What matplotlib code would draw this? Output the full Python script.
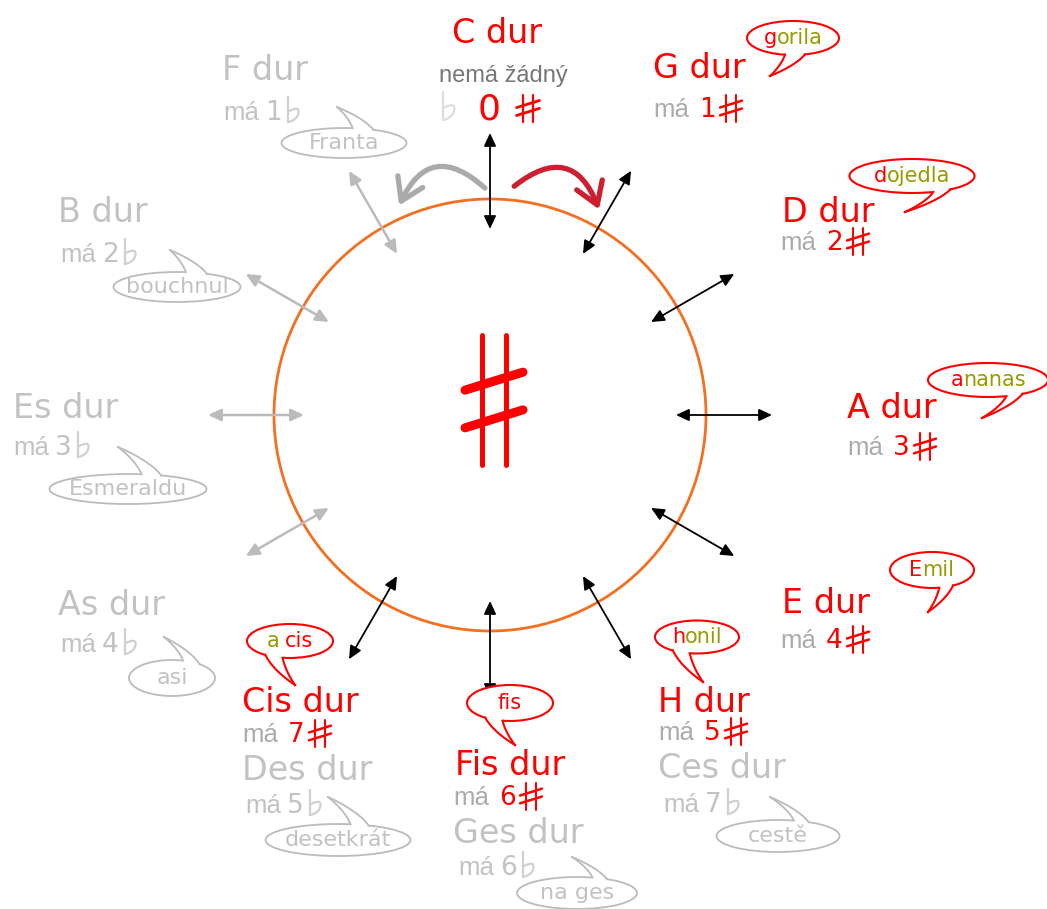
import numpy as np
import matplotlib
matplotlib.use("Agg")
from matplotlib import pyplot as plt
from matplotlib.patches import Circle, Ellipse, Polygon, FancyArrowPatch

# --- obsah ---
dur_sharp = ["G dur", "D dur", "A dur", "E dur", "H dur", "Fis dur", "Cis dur"]
n_sharp = [1, 2, 3, 4, 5, 6, 7]
# (olivova cast pred, cervena cast, olivova cast za)
word_sharp = [("", "g", "orila"), ("", "d", "ojedla"), ("", "a", "nanas"),
              ("", "E", "mil"), ("", "h", "onil"), ("", "fis", ""), ("a", "cis", "")]
dur_flat = ["F dur", "B dur", "Es dur", "As dur", "Des dur", "Ges dur", "Ces dur"]
n_flat = [1, 2, 3, 4, 5, 6, 7]
word_flat = ["Franta", "bouchnul", "Esmeraldu", "asi", "desetkrát", "na ges", "cestě"]

# --- rozlozeni (pixely, y dolu) ---
title_sharp = [(653, 78), (782, 222), (847, 418), (782, 613), (658, 712), (455, 775), (242, 712)]
ma_sharp = [(653, 117), (780, 250), (847, 455), (780, 648), (658, 740), (453, 805), (242, 742)]
title_flat = [(222, 80), (58, 222), (13, 418), (58, 615), (242, 780), (453, 843), (658, 778)]
ma_flat = [(223, 120), (60, 262), (13, 455), (60, 652), (245, 813), (458, 875), (663, 812)]
# stred, sirka, vyska, spicka, uhly paty
bub_sharp = [((793, 38), 92, 34, (770, 76), 100, 75),
             ((912, 176), 125, 34, (905, 212), 70, 52),
             ((988, 380), 120, 34, (982, 418), 72, 55),
             ((932, 570), 84, 36, (928, 612), 80, 60),
             ((697, 637), 84, 33, (703, 682), 125, 100),
             ((510, 703), 86, 36, (515, 745), 125, 100),
             ((290, 641), 86, 34, (295, 685), 125, 100)]
bub_flat = [((344, 143), 125, 30, (337, 107), 278, 298),
            ((177, 287), 127, 30, (170, 250), 278, 298),
            ((128, 489), 157, 30, (118, 447), 280, 295),
            ((172, 678), 86, 36, (164, 637), 285, 310),
            ((338, 840), 145, 32, (328, 797), 280, 295),
            ((577, 893), 120, 32, (572, 857), 285, 300),
            ((778, 836), 123, 32, (770, 797), 285, 300)]

RED = '#FF0000'
OLIVE = '#9A9A00'
GMA = '#ABABAB'
GFL = '#C2C2C2'
GSYM = '#D0D0D0'
MA_FONT = ['Liberation Sans', 'DejaVu Sans']

W, H = 1047, 909
fig = plt.figure(figsize=(W / 100, H / 100), dpi=100)
ax = fig.add_axes([0, 0, 1, 1])
ax.set_xlim(0, W)
ax.set_ylim(H, 0)
ax.axis('off')
rend = fig.canvas.get_renderer()


def rich(x, y, parts, size, zorder=6):
    # parts: (text, barva, mezera pred)
    ts, gaps = [], []
    for s, c, g in parts:
        if s:
            ts.append(ax.text(0, y, s, color=c, fontsize=size, ha='left', va='baseline', zorder=zorder))
            gaps.append(g if ts[:-1] else 0)
    ws = [t.get_window_extent(rend).width for t in ts]
    x0 = x - (sum(ws) + sum(gaps)) / 2
    for t, w, g in zip(ts, ws, gaps):
        x0 += g
        t.set_x(x0)
        x0 += w


def sharp(cx, cy, w, h, lwv, lwb, color=RED):
    for dx in (-0.21 * w, 0.21 * w):
        ax.plot([cx + dx, cx + dx], [cy - h / 2, cy + h / 2], color=color, lw=lwv,
                solid_capstyle='round', zorder=5)
    for dy in (-0.145 * h, 0.145 * h):
        ax.plot([cx - w / 2, cx + w / 2], [cy + dy + 0.155 * w, cy + dy - 0.155 * w], color=color,
                lw=lwb, solid_capstyle='round', zorder=5)


def quad(p0, p1, p2, n=30):
    t = np.linspace(0, 1, n)[:, None]
    p0, p1, p2 = map(np.array, (p0, p1, p2))
    return (1 - t) ** 2 * p0 + 2 * (1 - t) * t * p1 + t ** 2 * p2


def flat(x, base, h=25, w=12, color=GSYM):
    ax.plot([x, x], [base - h, base], color=color, lw=1.6, solid_capstyle='round', zorder=5)
    s1 = quad((x, base - 0.42 * h), (x + 1.15 * w, base - 0.7 * h), (x + 0.8 * w, base - 0.25 * h))
    s2 = quad((x + 0.8 * w, base - 0.25 * h), (x + 0.55 * w, base - 0.05 * h), (x, base))
    s = np.vstack([s1, s2])
    ax.plot(s[:, 0], s[:, 1], color=color, lw=1.6, zorder=5)


def bubble(c, w, h, tip, t1, t2, color, lw):
    ax.add_patch(Ellipse(c, w, h, fc='white', ec=color, lw=lw, zorder=3))
    sides = []
    for t in (t1, t2):
        b = (c[0] + w / 2 * np.cos(np.radians(t)), c[1] + h / 2 * np.sin(np.radians(t)))
        ctrl = ((b[0] * 0.75 + tip[0] * 0.25), (b[1] + tip[1]) / 2)
        sides.append(quad(b, ctrl, tip))
    poly = np.vstack([sides[0], sides[1][::-1], [c]])
    ax.add_patch(Polygon(poly, fc='white', ec='none', zorder=4))
    for s in sides:
        ax.plot(s[:, 0], s[:, 1], color=color, lw=lw, zorder=5)


# kruh a sipky
cx, cy = 490, 415
ax.add_patch(Circle((cx, cy), 216, fill=False, ec='#F37021', lw=2, zorder=2))
for i in range(12):
    a = np.radians(i * 30)
    p1 = (cx + 186 * np.sin(a), cy - 186 * np.cos(a))
    p2 = (cx + 282 * np.sin(a), cy - 282 * np.cos(a))
    black = i <= 7
    ax.annotate("", xy=p2, xytext=p1,
                arrowprops=dict(arrowstyle='<|-|>,head_length=0.6,head_width=0.28',
                                color='black' if black else '#BBBBBB', lw=1.3 if black else 1.8,
                                mutation_scale=13, shrinkA=0, shrinkB=0), zorder=2)

# oblouky nahore
ax.add_patch(FancyArrowPatch((487, 190), (398, 208), connectionstyle='arc3,rad=0.7',
                             arrowstyle='->,head_length=0.7,head_width=0.45', mutation_scale=22,
                             lw=3.8, color='#AAAAAA', zorder=3))
ax.add_patch(FancyArrowPatch((512, 188), (600, 212), connectionstyle='arc3,rad=-0.7',
                             arrowstyle='->,head_length=0.7,head_width=0.45', mutation_scale=22,
                             lw=3.8, color='#CC2030', zorder=3))

# velky krizek uprostred
sharp(494, 400, 58, 130, 3.6, 6.5)

# C dur
ax.text(497, 43, "C dur", color=RED, fontsize=24, ha='center', va='baseline')
ax.text(503, 82, "nemá žádný", color='#777777', fontsize=17, family=MA_FONT, ha='center', va='baseline')
flat(443, 120, h=28, w=13, color='#DDDDDD')
ax.text(489, 120, "0", color=RED, fontsize=26, ha='center', va='baseline')
sharp(528, 108, 23, 27, 1.6, 2.0)

# krizkove stupnice
for i in range(len(dur_sharp)):
    tx, ty = title_sharp[i]
    ax.text(tx, ty, dur_sharp[i], color=RED, fontsize=24, ha='left', va='baseline')
    mx, my = ma_sharp[i]
    ax.text(mx, my, "má", color=GMA, fontsize=18.5, family=MA_FONT, ha='left', va='baseline')
    ax.text(mx + 46, my, str(n_sharp[i]), color=RED, fontsize=19, ha='left', va='baseline')
    sharp(mx + 78, my - 9, 22, 27, 1.5, 1.8)
    c, w, h, tip, t1, t2 = bub_sharp[i]
    bubble(c, w, h, tip, t1, t2, RED, 1.5)
    pre, red, post = word_sharp[i]
    rich(c[0], c[1] + 6, [(pre, OLIVE, 0), (red, RED, 6), (post, OLIVE, 0)], 15)

# beckove stupnice
for i in range(len(dur_flat)):
    tx, ty = title_flat[i]
    ax.text(tx, ty, dur_flat[i], color=GFL, fontsize=24, ha='left', va='baseline')
    mx, my = ma_flat[i]
    ax.text(mx, my, "má", color=GFL, fontsize=18.5, family=MA_FONT, ha='left', va='baseline')
    ax.text(mx + 42, my, str(n_flat[i]), color=GFL, fontsize=19, ha='left', va='baseline')
    flat(mx + 65, my + 2)
    c, w, h, tip, t1, t2 = bub_flat[i]
    bubble(c, w, h, tip, t1, t2, '#BBBBBB', 1.3)
    ax.text(c[0], c[1] + 6, word_flat[i], color=GFL, fontsize=16, ha='center', va='baseline', zorder=6)

fig.savefig("out.png", dpi=100)
